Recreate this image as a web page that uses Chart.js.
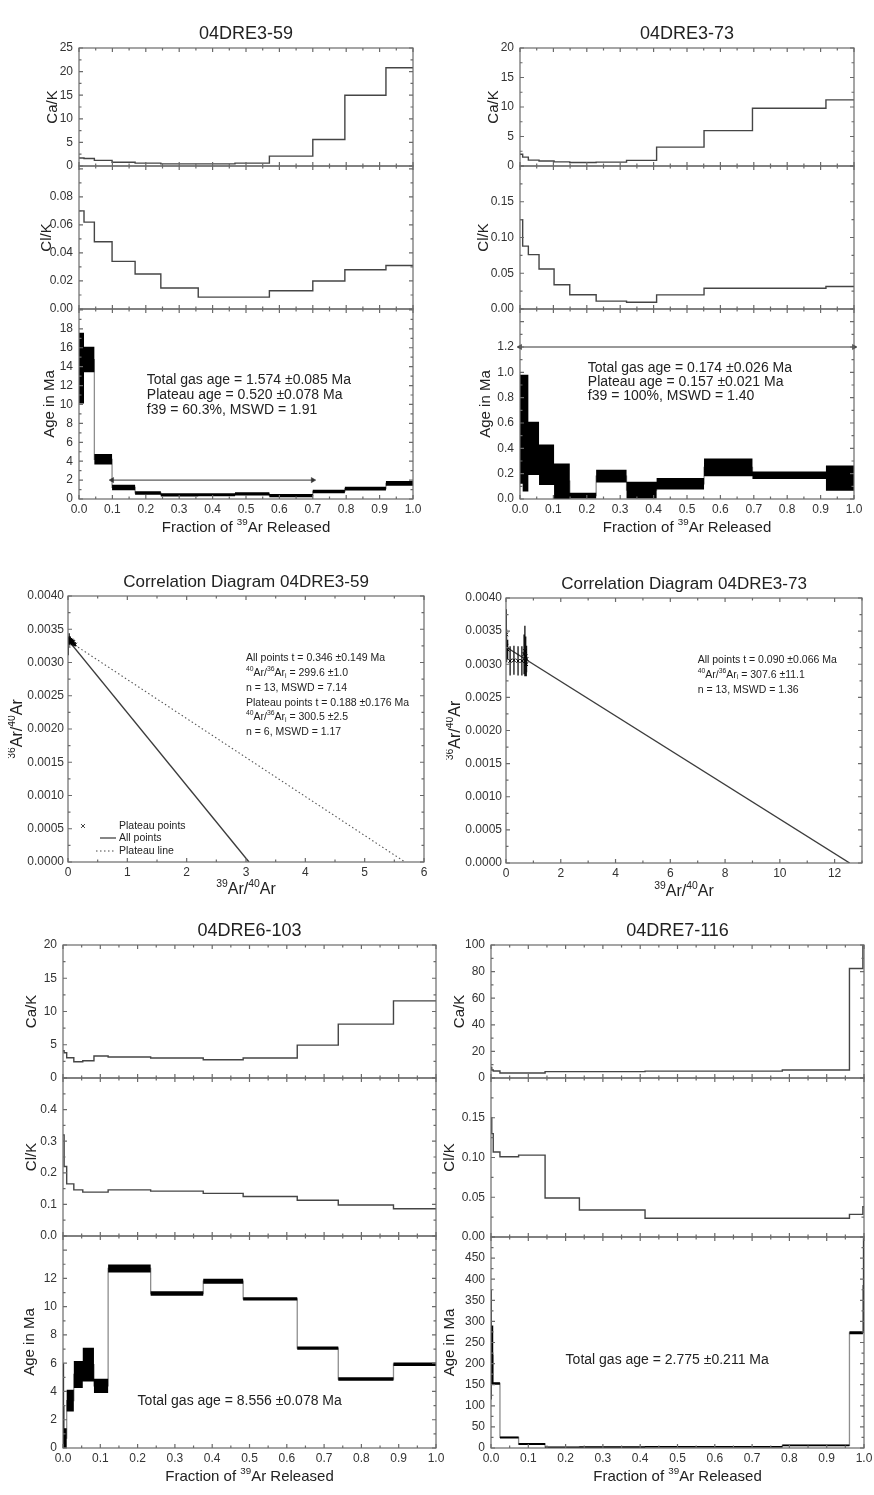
<!DOCTYPE html>
<html>
<head>
<meta charset="utf-8">
<title>Ar-Ar age spectra and correlation diagrams</title>
<script src="https://cdn.jsdelivr.net/npm/chart.js@4.4.1/dist/chart.umd.min.js"></script>
<style>
  html, body { margin: 0; padding: 0; background: #fff; }
  #page { position: relative; width: 874px; height: 1495px; overflow: hidden; background: #fff; }
  #page canvas { position: absolute; }
</style>
</head>
<body>
<div id="page"></div>
<script>
Chart.defaults.font.family = "'Liberation Sans', Arial, Helvetica, sans-serif";
Chart.defaults.color = '#333';
const FONT = Chart.defaults.font.family;

// shared x axis of the age spectra
const fracLabels = ['0.0', '0.1', '0.2', '0.3', '0.4', '0.5', '0.6', '0.7', '0.8', '0.9', '1.0'];

// 04DRE3-59 : step limits (cumulative 39Ar fraction) and values per step
const a59Frac = [0, 0.015, 0.046, 0.099, 0.168, 0.245, 0.357, 0.467, 0.570, 0.700, 0.796, 0.919, 1.0];
const a59CaK = [1.7, 1.6, 1.2, 0.8, 0.6, 0.45, 0.45, 0.6, 2.1, 5.6, 15.0, 20.8];
const a59ClK = [0.070, 0.062, 0.048, 0.034, 0.025, 0.015, 0.0085, 0.0085, 0.013, 0.020, 0.028, 0.031];
const a59Age = [13.85, 14.75, 4.2, 1.22, 0.64, 0.43, 0.45, 0.55, 0.35, 0.8, 1.1, 1.65];
const a59Err = [3.75, 1.35, 0.55, 0.3, 0.18, 0.17, 0.15, 0.17, 0.17, 0.18, 0.2, 0.25];
const a59Plateau = [0.099, 0.700, 2.0];
const a59CaKTicks = ['0', '5', '10', '15', '20', '25'];
const a59ClKTicks = ['0.00', '0.02', '0.04', '0.06', '0.08'];
const a59AgeTicks = ['0', '2', '4', '6', '8', '10', '12', '14', '16', '18'];
const a59Notes = ['Total gas age = 1.574 \u00b10.085 Ma', 'Plateau age = 0.520 \u00b10.078 Ma', 'f39 = 60.3%, MSWD = 1.91'];

// 04DRE3-73
const a73Frac = [0, 0.008, 0.025, 0.057, 0.102, 0.149, 0.228, 0.319, 0.409, 0.551, 0.696, 0.916, 1.0];
const a73CaK = [2.0, 1.5, 1.0, 0.85, 0.7, 0.6, 0.65, 0.95, 3.2, 6.0, 9.8, 11.2];
const a73ClK = [0.125, 0.088, 0.076, 0.056, 0.034, 0.020, 0.011, 0.0094, 0.0197, 0.029, 0.029, 0.0314];
const a73Age = [0.55, 0.52, 0.40, 0.27, 0.14, 0.027, 0.18, 0.07, 0.12, 0.25, 0.187, 0.165];
const a73Err = [0.43, 0.46, 0.21, 0.16, 0.14, 0.023, 0.05, 0.066, 0.045, 0.07, 0.03, 0.1];
const a73Plateau = [0, 1.0, 1.2];
const a73CaKTicks = ['0', '5', '10', '15', '20'];
const a73ClKTicks = ['0.00', '0.05', '0.10', '0.15'];
const a73AgeTicks = ['0.0', '0.2', '0.4', '0.6', '0.8', '1.0', '1.2'];
const a73Notes = ['Total gas age = 0.174 \u00b10.026 Ma', 'Plateau age = 0.157 \u00b10.021 Ma', 'f39 = 100%, MSWD = 1.40'];

// 04DRE6-103
const a103Frac = [0, 0.003, 0.0099, 0.029, 0.053, 0.083, 0.121, 0.235, 0.376, 0.483, 0.628, 0.738, 0.886, 1.0];
const a103CaK = [4.1, 3.8, 3.05, 2.45, 2.6, 3.3, 3.15, 3.0, 2.75, 3.0, 4.95, 8.1, 11.6];
const a103ClK = [0.32, 0.22, 0.165, 0.146, 0.139, 0.139, 0.146, 0.142, 0.135, 0.125, 0.113, 0.098, 0.086];
const a103Age = [3.0, 0.7, 3.35, 5.2, 5.9, 4.4, 12.7, 10.93, 11.8, 10.55, 7.07, 4.88, 5.93];
const a103Err = [3.0, 0.7, 0.77, 0.95, 1.2, 0.5, 0.28, 0.16, 0.17, 0.12, 0.12, 0.12, 0.12];
const a103CaKTicks = ['0', '5', '10', '15', '20'];
const a103ClKTicks = ['0.0', '0.1', '0.2', '0.3', '0.4'];
const a103AgeTicks = ['0', '2', '4', '6', '8', '10', '12'];
const a103Notes = ['Total gas age = 8.556 \u00b10.078 Ma'];

// 04DRE7-116
const a116Frac = [0, 0.002, 0.006, 0.024, 0.074, 0.145, 0.237, 0.413, 0.781, 0.961, 0.997, 1.0];
const a116CaK = [8, 6, 5.3, 3.8, 3.8, 4.8, 4.8, 5.2, 6.0, 82.3, 99.5];
const a116ClK = [0.15, 0.13, 0.107, 0.101, 0.103, 0.049, 0.034, 0.0235, 0.0235, 0.0285, 0.038];
const a116Age = [245, 220, 153, 25, 9.5, 1.5, 2.0, 3.0, 6.0, 273, 385];
const a116Err = [130, 70, 3, 2.5, 2.5, 2, 2, 2, 2, 3.5, 112];
const a116CaKTicks = ['0', '20', '40', '60', '80', '100'];
const a116ClKTicks = ['0.00', '0.05', '0.10', '0.15'];
const a116AgeTicks = ['0', '50', '100', '150', '200', '250', '300', '350', '400', '450'];
const a116Notes = ['Total gas age = 2.775 \u00b10.211 Ma'];

// correlation diagrams: 39Ar/40Ar, 36Ar/40Ar, 1 sigma of 36Ar/40Ar
const c59X = [0.004, 0.02, 0.03, 0.04, 0.05, 0.05, 0.06, 0.07, 0.07, 0.08, 0.09, 0.10, 0.12];
const c59Y = [0.00325, 0.00336, 0.00334, 0.00333, 0.00332, 0.00331, 0.00333, 0.00330, 0.00332, 0.00329, 0.00331, 0.00328, 0.00327];
const c59Err = [0.00014, 0.00008, 0.00006, 0.00005, 0.00004, 0.00004, 0.00004, 0.00004, 0.00003, 0.00003, 0.00003, 0.00003, 0.00003];
const c59AllFit = [0.00334, 3.05];      // y intercept, x intercept
const c59PlateauFit = [0.00333, 5.68];
const c59XTicks = ['0', '1', '2', '3', '4', '5', '6'];
const c59Notes = ['All points t = 0.346 \u00b10.149 Ma', '^{40}Ar/^{36}Ar_{i} = 299.6 \u00b11.0', 'n = 13, MSWD = 7.14',
  'Plateau points t = 0.188 \u00b10.176 Ma', '^{40}Ar/^{36}Ar_{i} = 300.5 \u00b12.5', 'n = 6, MSWD = 1.17'];
const c59Legend = ['Plateau points', 'All points', 'Plateau line'];

const c73X = [0.01, 0.02, 0.06, 0.15, 0.29, 0.44, 0.58, 0.66, 0.69, 0.71, 0.72, 0.74, 0.75];
const c73Y = [0.00345, 0.00328, 0.00322, 0.00305, 0.00306, 0.00305, 0.00305, 0.00315, 0.00320, 0.00305, 0.00312, 0.00300, 0.00308];
const c73Err = [0.00038, 0.00025, 0.00015, 0.00022, 0.00022, 0.00022, 0.00022, 0.00030, 0.00038, 0.00020, 0.00030, 0.00018, 0.00020];
const c73AllFit = [0.00326, 12.55];
const c73XTicks = ['0', '2', '4', '6', '8', '10', '12'];
const c73Notes = ['All points t = 0.090 \u00b10.066 Ma', '^{40}Ar/^{36}Ar_{i} = 307.6 \u00b111.1', 'n = 13, MSWD = 1.36'];

const corrYTicks = ['0.0000', '0.0005', '0.0010', '0.0015', '0.0020', '0.0025', '0.0030', '0.0035', '0.0040'];

const page = document.getElementById('page');

// text with ^{sup} and _{sub} parts
function parseRich(s) {
  const out = [];
  const re = /\^\{([^}]*)\}|_\{([^}]*)\}|([^^_]+)/g;
  let m;
  while ((m = re.exec(s))) {
    if (m[1] !== undefined) out.push({t: m[1], k: 1});
    else if (m[2] !== undefined) out.push({t: m[2], k: -1});
    else out.push({t: m[3], k: 0});
  }
  return out;
}

function drawRich(ctx, s, x, y, size, align, rot, color) {
  const segs = parseRich(s);
  const fontFor = k => (k ? (size * 0.65).toFixed(1) : size) + 'px ' + FONT;
  let w = 0;
  segs.forEach(g => { ctx.font = fontFor(g.k); g.w = ctx.measureText(g.t).width; w += g.w; });
  ctx.save();
  ctx.translate(x, y);
  if (rot) ctx.rotate(rot);
  let cx = align === 'center' ? -w / 2 : align === 'right' ? -w : 0;
  ctx.fillStyle = color;
  ctx.textBaseline = 'middle';
  ctx.textAlign = 'left';
  segs.forEach(g => {
    ctx.font = fontFor(g.k);
    ctx.fillText(g.t, cx, g.k > 0 ? -size * 0.38 : g.k < 0 ? size * 0.25 : 0);
    cx += g.w;
  });
  ctx.restore();
}

function stepData(frac, vals) {
  const pts = vals.map((v, i) => ({x: frac[i], y: v}));
  pts.push({x: frac[frac.length - 1], y: vals[vals.length - 1]});
  return pts;
}

function stepLine(frac, vals, color, width, order) {
  return {data: stepData(frac, vals), stepped: true, borderColor: color, borderWidth: width,
    pointRadius: 0, fill: false, order: order};
}

function step(labels) {
  return parseFloat(labels[1]) - parseFloat(labels[0]);
}

// box round the plot area with small inward ticks
function frame(xStep, yStep) {
  return {
    id: 'frame',
    afterDatasetsDraw(chart) {
      const {ctx, chartArea: a, scales: {x, y}} = chart;
      ctx.save();
      ctx.strokeStyle = '#6a6a6a';
      ctx.lineWidth = 1.2;
      ctx.beginPath();
      for (let k = 0; x.min + k * xStep / 2 <= x.max + 1e-9; k++) {
        const p = x.getPixelForValue(x.min + k * xStep / 2);
        const len = k % 2 ? 2.5 : 4;
        ctx.moveTo(p, a.top); ctx.lineTo(p, a.top + len);
        ctx.moveTo(p, a.bottom); ctx.lineTo(p, a.bottom - len);
      }
      for (let k = 0; y.min + k * yStep / 2 <= y.max + 1e-9; k++) {
        const p = y.getPixelForValue(y.min + k * yStep / 2);
        const len = k % 2 ? 2.5 : 4;
        ctx.moveTo(a.left, p); ctx.lineTo(a.left + len, p);
        ctx.moveTo(a.right, p); ctx.lineTo(a.right - len, p);
      }
      ctx.stroke();
      ctx.strokeRect(a.left, a.top, a.right - a.left, a.bottom - a.top);
      ctx.restore();
    }
  };
}

function notes(items) {
  return {
    id: 'notes',
    afterDraw(chart) {
      const {ctx, chartArea: a, scales: {x, y}} = chart;
      items.forEach(it => {
        let px, py;
        if (it.at) {
          px = x.getPixelForValue(it.at[0]);
          py = y.getPixelForValue(it.at[1]);
        } else {
          px = (it.ax === 'left' ? a.left : (a.left + a.right) / 2) + (it.dx || 0);
          py = (it.ay === 'top' ? a.top : it.ay === 'bottom' ? a.bottom : (a.top + a.bottom) / 2) + (it.dy || 0);
        }
        it.lines.forEach((s, i) => drawRich(ctx, s, px, py + i * (it.gap || 0), it.size,
          it.align || 'left', it.rot || 0, it.color || '#222'));
      });
    }
  };
}

function yAxis(max, labels, mL, opt) {
  return {
    type: 'linear', position: 'left', min: 0, max: max,
    afterBuildTicks: s => { s.ticks = labels.map(l => ({value: parseFloat(l)})); },
    afterFit: s => { s.width = mL; },
    grid: {display: false, drawTicks: false}, border: {display: false},
    ticks: {callback: (v, i) => labels[i], padding: opt.pad || 6, color: '#333', font: {size: 12}},
    title: opt.title
      ? {display: true, text: opt.title, color: '#222', font: {size: 15}, padding: {top: opt.titlePad, bottom: 0}}
      : {display: false}
  };
}

function xAxis(max, labels, show, mB) {
  const ax = {
    type: 'linear', position: 'bottom', min: 0, max: max, display: show,
    afterBuildTicks: s => { s.ticks = labels.map(l => ({value: parseFloat(l)})); },
    grid: {display: false, drawTicks: false}, border: {display: false},
    ticks: {callback: (v, i) => labels[i], padding: 3, maxRotation: 0, autoSkip: false, color: '#333', font: {size: 12}}
  };
  if (show) ax.afterFit = s => { s.height = mB; };
  return ax;
}

function addChart(area, m, config) {
  const c = document.createElement('canvas');
  const w = area[2] - area[0] + m[0] + m[2];
  const h = area[3] - area[1] + m[1] + m[3];
  c.width = w; c.height = h;
  c.style.left = (area[0] - m[0]) + 'px';
  c.style.top = (area[1] - m[1]) + 'px';
  c.style.width = w + 'px';
  c.style.height = h + 'px';
  page.appendChild(c);
  return new Chart(c, config);
}

function spectrum(s, g) {
  const mL = 60, mR = 18;
  const rows = [
    {vals: s.caK, ticks: s.caTicks, title: 'Ca/K'},
    {vals: s.clK, ticks: s.clTicks, title: 'Cl/K'},
    {age: true, ticks: s.ageTicks, title: 'Age in Ma'}
  ];
  rows.forEach((r, i) => {
    const first = i === 0, last = i === 2;
    const mT = first ? 40 : 16, mB = last ? 45 : 16;
    const left = g.x0 - mL;
    let datasets;
    if (r.age) {
      const lo = s.age.map((v, k) => v - s.err[k]);
      const hi = s.age.map((v, k) => v + s.err[k]);
      datasets = [
        {data: stepData(s.frac, lo), stepped: true, borderWidth: 0, borderColor: 'rgba(0,0,0,0)',
          pointRadius: 0, fill: false, order: 0},
        {data: stepData(s.frac, hi), stepped: true, borderWidth: 0, borderColor: 'rgba(0,0,0,0)',
          pointRadius: 0, fill: '-1', backgroundColor: '#000', order: 0},
        stepLine(s.frac, s.age, '#8e8e8e', 1.3, 1)
      ];
      if (s.plateau) {
        datasets.push({
          data: [{x: s.plateau[0], y: s.plateau[2]}, {x: s.plateau[1], y: s.plateau[2]}],
          borderColor: '#333', borderWidth: 1, fill: false, order: 0, clip: 6,
          pointStyle: 'triangle', pointRotation: [270, 90], pointRadius: 3,
          pointBackgroundColor: '#333', pointBorderColor: '#333', pointBorderWidth: 0.5
        });
      }
    } else {
      datasets = [stepLine(s.frac, r.vals, '#454545', 1.4, 0)];
    }
    const items = [];
    if (first) items.push({lines: [s.name], ay: 'top', dy: -14, size: 18, align: 'center'});
    if (last) {
      items.push({lines: ['Fraction of ^{39}Ar Released'], ay: 'bottom', dy: 29, size: 15, align: 'center'});
      items.push({lines: s.notes, at: g.noteAt, gap: g.noteGap, size: 14});
    }
    addChart([g.x0, g.rows[i], g.x1, g.rows[i + 1]], [mL, mT, mR, mB], {
      type: 'line',
      data: {datasets},
      options: {
        responsive: false, animation: false, devicePixelRatio: 1,
        layout: {padding: {left: 0, right: mR, top: mT, bottom: last ? 0 : mB}},
        plugins: {legend: {display: false}, tooltip: {enabled: false}},
        scales: {
          x: xAxis(1, fracLabels, last, mB),
          y: yAxis(g.max[i], r.ticks, mL, {title: r.title, titlePad: g.tx[i] - left - 9})
        }
      },
      plugins: [frame(0.1, step(r.ticks)), notes(items)]
    });
  });
}

function correlation(c, g) {
  const mL = 60, mT = 40, mR = 18, mB = 45;
  const bars = c.x.flatMap((x, i) => [{x, y: c.y[i] - c.err[i]}, {x, y: c.y[i] + c.err[i]}, {x, y: null}]);
  const datasets = [
    {data: c.x.map((x, i) => ({x, y: c.y[i]})), showLine: false, pointStyle: 'crossRot',
      pointRadius: 2.5, pointBorderColor: '#000', pointBorderWidth: 1, order: 0},
    {data: bars, borderColor: '#111', borderWidth: 1.3, pointRadius: 0, spanGaps: false, order: 1},
    {data: [{x: 0, y: c.allFit[0]}, {x: c.allFit[1], y: 0}], borderColor: '#3c3c3c', borderWidth: 1.4,
      pointRadius: 0, order: 2}
  ];
  if (c.plateauFit) {
    datasets.push({data: [{x: 0, y: c.plateauFit[0]}, {x: c.plateauFit[1], y: 0}], borderColor: '#555',
      borderWidth: 1.1, borderDash: [1.5, 2.5], pointRadius: 0, order: 3});
  }
  const items = [
    {lines: [c.name], ay: 'top', dy: -14, size: 17, align: 'center'},
    {lines: ['^{36}Ar/^{40}Ar'], ax: 'left', dx: -50, size: 16, align: 'center', rot: -Math.PI / 2},
    {lines: ['^{39}Ar/^{40}Ar'], ay: 'bottom', dy: g.xTitleDy, size: 16, align: 'center'},
    {lines: c.notes, at: g.noteAt, gap: 14.7, size: 10.5}
  ];
  const plugins = [frame(step(c.xTicks), step(corrYTicks)), notes(items)];
  if (c.legend) {
    plugins.push({
      id: 'corrLegend',
      afterDraw(chart) {
        const {ctx, chartArea: a} = chart;
        ctx.save();
        ctx.strokeStyle = '#444';
        ctx.lineWidth = 1;
        Chart.helpers.drawPoint(ctx, {pointStyle: 'crossRot', radius: 2.8, rotation: 0, borderWidth: 1}, a.left + 15, a.bottom - 36);
        ctx.lineWidth = 1.3;
        ctx.beginPath(); ctx.moveTo(a.left + 32, a.bottom - 24); ctx.lineTo(a.left + 48, a.bottom - 24); ctx.stroke();
        ctx.setLineDash([1.5, 2.5]);
        ctx.lineWidth = 1;
        ctx.beginPath(); ctx.moveTo(a.left + 28, a.bottom - 11); ctx.lineTo(a.left + 48, a.bottom - 11); ctx.stroke();
        ctx.restore();
        c.legend.forEach((t, i) => drawRich(ctx, t, a.left + 51, a.bottom - 36 + i * 12.6, 10.5, 'left', 0, '#222'));
      }
    });
  }
  addChart(g.area, [mL, mT, mR, mB], {
    type: 'line',
    data: {datasets},
    options: {
      responsive: false, animation: false, devicePixelRatio: 1,
      layout: {padding: {left: 0, right: mR, top: mT, bottom: 0}},
      plugins: {legend: {display: false}, tooltip: {enabled: false}},
      scales: {
        x: xAxis(g.xMax, c.xTicks, true, mB),
        y: yAxis(0.004, corrYTicks, mL, {pad: 4})
      }
    },
    plugins
  });
}

spectrum(
  {name: '04DRE3-59', frac: a59Frac, caK: a59CaK, clK: a59ClK, age: a59Age, err: a59Err, plateau: a59Plateau,
    caTicks: a59CaKTicks, clTicks: a59ClKTicks, ageTicks: a59AgeTicks, notes: a59Notes},
  {x0: 79, x1: 413, rows: [48, 166, 309, 499], max: [25, 0.102, 20.1], tx: [53, 47, 50], noteAt: [0.203, 12.6], noteGap: 15}
);
spectrum(
  {name: '04DRE3-73', frac: a73Frac, caK: a73CaK, clK: a73ClK, age: a73Age, err: a73Err, plateau: a73Plateau,
    caTicks: a73CaKTicks, clTicks: a73ClKTicks, ageTicks: a73AgeTicks, notes: a73Notes},
  {x0: 520, x1: 854, rows: [48, 166, 309, 499], max: [20, 0.2, 1.5], tx: [494, 484, 486], noteAt: [0.203, 1.036], noteGap: 14.3}
);
correlation(
  {name: 'Correlation Diagram 04DRE3-59', x: c59X, y: c59Y, err: c59Err, allFit: c59AllFit, plateauFit: c59PlateauFit,
    xTicks: c59XTicks, notes: c59Notes, legend: c59Legend},
  {area: [68, 596, 424, 862], xMax: 6, noteAt: [3.0, 0.00306], xTitleDy: 28}
);
correlation(
  {name: 'Correlation Diagram 04DRE3-73', x: c73X, y: c73Y, err: c73Err, allFit: c73AllFit,
    xTicks: c73XTicks, notes: c73Notes},
  {area: [506, 598, 862, 863], xMax: 13, noteAt: [7.0, 0.00306], xTitleDy: 29}
);
spectrum(
  {name: '04DRE6-103', frac: a103Frac, caK: a103CaK, clK: a103ClK, age: a103Age, err: a103Err,
    caTicks: a103CaKTicks, clTicks: a103ClKTicks, ageTicks: a103AgeTicks, notes: a103Notes},
  {x0: 63, x1: 436, rows: [945, 1078, 1236, 1448], max: [20, 0.5, 15], tx: [32, 32, 30], noteAt: [0.2, 3.33], noteGap: 15}
);
spectrum(
  {name: '04DRE7-116', frac: a116Frac, caK: a116CaK, clK: a116ClK, age: a116Age, err: a116Err,
    caTicks: a116CaKTicks, clTicks: a116ClKTicks, ageTicks: a116AgeTicks, notes: a116Notes},
  {x0: 491, x1: 864, rows: [945, 1078, 1237, 1448], max: [100, 0.2, 500], tx: [460, 450, 450], noteAt: [0.2, 208], noteGap: 15}
);
</script>
</body>
</html>
